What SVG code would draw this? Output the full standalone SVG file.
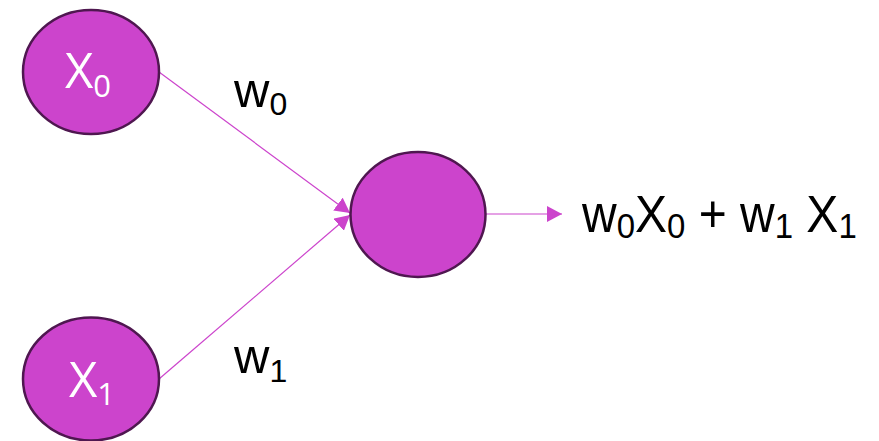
<svg xmlns="http://www.w3.org/2000/svg" width="879" height="441" viewBox="0 0 879 441">
<style>
.node{fill:#cc44cc;stroke:#4f1750;stroke-width:2.5}
.conn{stroke:#cc44cc;stroke-width:1.2;fill:none}
.nl{font-family:"Open Sans","Liberation Sans",sans-serif;font-size:49px;fill:#ffffff}
.nl .sub{font-size:31px}
.lb{font-family:"Liberation Sans",Arial,sans-serif;font-size:49px;fill:#000000}
.sub{font-size:32px}
.out{font-family:"Liberation Sans",Arial,sans-serif;font-size:48px;fill:#000000}
.out .sub{font-size:33px}
</style>
<defs>
<marker id="ah" markerUnits="userSpaceOnUse" markerWidth="16" markerHeight="16" viewBox="0 0 16 16" refX="15" refY="8" orient="auto">
<path d="M0,0 L15,8 L0,16 Z" fill="#cc44cc"/>
</marker>
</defs>
<rect width="879" height="441" fill="#ffffff"/>
<g id="connectors">
<line class="conn" x1="159" y1="72" x2="350" y2="213" marker-end="url(#ah)"/>
<line class="conn" x1="159" y1="379" x2="350" y2="215" marker-end="url(#ah)"/>
<line class="conn" x1="486" y1="214" x2="562" y2="214" marker-end="url(#ah)"/>
</g>
<g id="x0">
<ellipse class="node" cx="91" cy="72" rx="68" ry="62"/>
<text class="nl" x="65" y="88">X<tspan class="sub" dy="9">0</tspan></text>
</g>
<g id="x1">
<ellipse class="node" cx="91" cy="379" rx="68" ry="61.5"/>
<text class="nl" x="69" y="397">X<tspan class="sub" dy="8">1</tspan></text>
</g>
<g id="sum">
<ellipse class="node" cx="418" cy="214.5" rx="67.5" ry="62.5"/>
</g>
<g id="labels">
<text class="lb" x="234" y="107">w<tspan class="sub" dy="8">0</tspan></text>
<text class="lb" x="234" y="373">w<tspan class="sub" dy="9">1</tspan></text>
<text class="out" x="582" y="232" transform="translate(0,232) scale(1,1.08) translate(0,-232)">w<tspan class="sub" dy="6">0</tspan><tspan dy="-6">X</tspan><tspan class="sub" dy="6">0</tspan><tspan dy="-6"> + w</tspan><tspan class="sub" dy="6">1</tspan><tspan dy="-6"> X</tspan><tspan class="sub" dy="6">1</tspan></text>
</g>
</svg>
